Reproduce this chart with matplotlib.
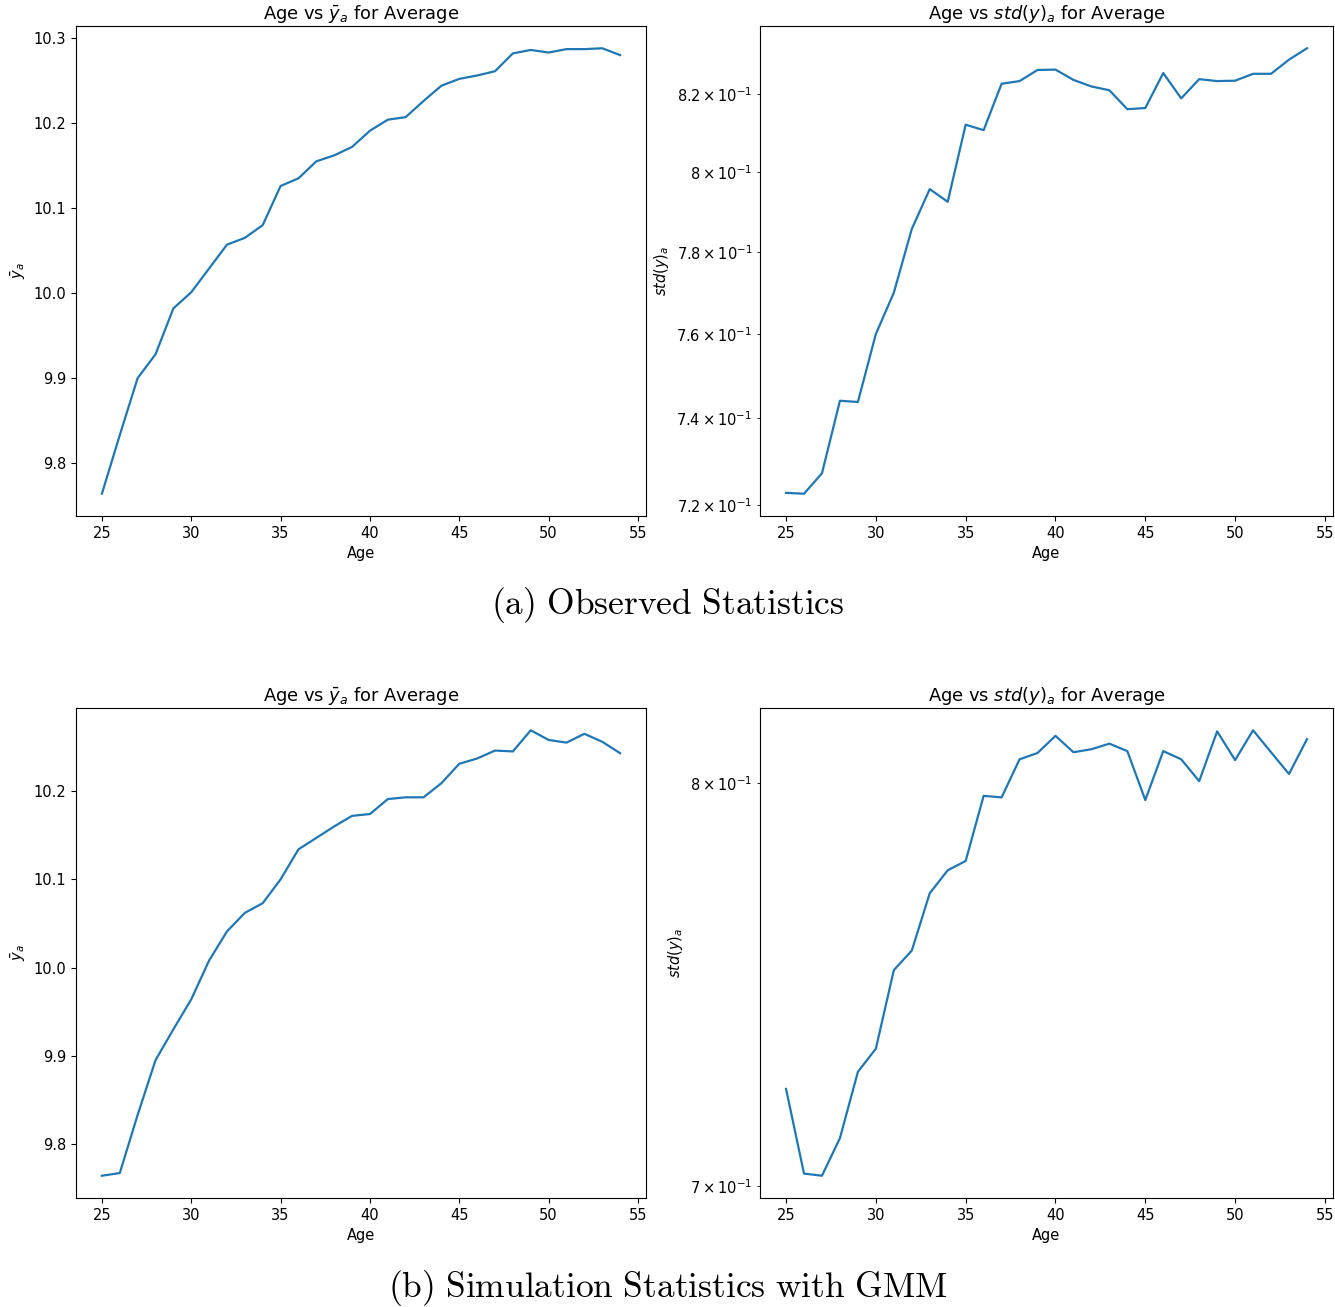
import matplotlib
matplotlib.use("Agg")
import matplotlib.pyplot as plt

plt.rcParams['mathtext.fontset'] = 'dejavusans'

ages = list(range(25, 55))

# (a) observed
obs_mean = [9.764, 9.833, 9.900, 9.928, 9.982, 10.001, 10.029, 10.057, 10.065, 10.080,
            10.126, 10.135, 10.155, 10.162, 10.172, 10.191, 10.204, 10.207, 10.226, 10.244,
            10.252, 10.256, 10.261, 10.282, 10.286, 10.283, 10.287, 10.287, 10.288, 10.280]
obs_std = [0.7227, 0.7225, 0.7272, 0.7441, 0.7438, 0.7600, 0.7700, 0.7857, 0.7957, 0.7925,
           0.8121, 0.8107, 0.8227, 0.8234, 0.8263, 0.8264, 0.8237, 0.8220, 0.8210, 0.8161,
           0.8164, 0.8255, 0.8189, 0.8239, 0.8234, 0.8235, 0.8253, 0.8253, 0.8290, 0.8320]

# (b) simulated with GMM
sim_mean = [9.764, 9.767, 9.833, 9.895, 9.930, 9.964, 10.008, 10.041, 10.062, 10.073,
            10.100, 10.134, 10.147, 10.160, 10.172, 10.174, 10.191, 10.193, 10.193, 10.209,
            10.231, 10.237, 10.246, 10.245, 10.269, 10.258, 10.255, 10.265, 10.256, 10.243]
sim_std = [0.7229, 0.7029, 0.7024, 0.7112, 0.7270, 0.7326, 0.7519, 0.7568, 0.7713, 0.7772,
           0.7796, 0.7966, 0.7962, 0.8063, 0.8080, 0.8126, 0.8082, 0.8090, 0.8105, 0.8085,
           0.7955, 0.8085, 0.8063, 0.8005, 0.8138, 0.8061, 0.8141, 0.8082, 0.8024, 0.8117]

W, H = 1335, 1307
fig = plt.figure(figsize=(W / 100, H / 100), dpi=100)


def box(x0, y0, x1, y1):
    # pixel box (top-left origin) -> figure fraction rect
    return [x0 / W, 1 - y1 / H, (x1 - x0) / W, (y1 - y0) / H]


def mean_plot(rect, vals):
    ax = fig.add_axes(rect)
    ax.plot(ages, vals, color='#1f77b4', lw=1.6)
    ax.set_title(r'Age vs $\bar{y}_a$ for Average', fontsize=12.9, pad=5)
    ax.set_xlabel('Age', fontsize=10.5)
    ax.set_ylabel(r'$\bar{y}_a$', fontsize=10.5)
    ax.tick_params(labelsize=10.5)
    return ax


def std_plot(rect, vals):
    ax = fig.add_axes(rect)
    ax.plot(ages, vals, color='#1f77b4', lw=1.6)
    ax.set_yscale('log')
    ax.set_title(r'Age vs $std(y)_a$ for Average', fontsize=12.9, pad=5)
    ax.set_xlabel('Age', fontsize=10.5)
    ax.set_ylabel(r'$std(y)_a$', fontsize=10.5)
    ax.tick_params(which='both', labelsize=10.5)
    return ax


mean_plot(box(76, 26, 646, 516), obs_mean)
std_plot(box(760, 26, 1333, 516), obs_std)
mean_plot(box(76, 708, 646, 1198), sim_mean)
std_plot(box(760, 708, 1333, 1198), sim_std)

fig.text(668 / W, 1 - 605 / H, r'$\mathrm{(a)\ Observed\ Statistics}$',
         ha='center', va='center', fontsize=25.5, math_fontfamily='cm')
fig.text(668 / W, 1 - 1288 / H, r'$\mathrm{(b)\ Simulation\ Statistics\ with\ GMM}$',
         ha='center', va='center', fontsize=25.5, math_fontfamily='cm')

fig.savefig('out.png', dpi=100)
